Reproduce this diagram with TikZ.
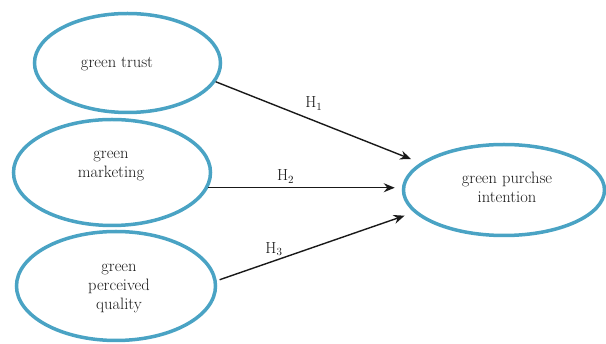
\documentclass[tikz,border=0pt]{standalone}
\usetikzlibrary{shapes.geometric,arrows.meta}
\definecolor{ringblue}{RGB}{74,163,196}
\definecolor{txt}{RGB}{25,25,25}
\begin{document}
\begin{tikzpicture}[x=1pt,y=-1pt,
  oval/.style={ellipse, draw=ringblue, line width=3.5pt, inner sep=0pt},
  lbl/.style={font=\fontsize{16.5}{19}\selectfont, text=txt, align=center, inner sep=0pt},
  hyp/.style={draw=black!90, line width=1.4pt, -{Stealth[length=11pt,width=9pt]}},
  hlbl/.style={font=\fontsize{16}{19}\selectfont, text=txt, inner sep=0pt}]
\useasboundingbox (0,0) rectangle (606,344);
\node[oval, minimum width=186pt, minimum height=99pt] (e1) at (127.5,63) {};
\node[oval, minimum width=197pt, minimum height=106pt] (e2) at (112,172.5) {};
\node[oval, minimum width=199pt, minimum height=109pt] (e3) at (116,286) {};
\node[oval, minimum width=201pt, minimum height=91pt] (e4) at (504,190) {};
\node[lbl] (t1) at (117,64) {green trust};
\node[lbl] (t2) at (111,166) {green\\marketing};
\node[lbl] (t3) at (119,288) {green\\perceived\\quality};
\node[lbl] (t4) at (507,187) {green purchse\\intention};
\draw[hyp, shorten >=10pt] (e1.-12) -- (e4.162) node[hlbl, pos=0.48, yshift=17pt] {H$_1$};
\draw[hyp, shorten >=7pt] (e2.-9) -- (e2.-9 -| e4.west) node[hlbl, pos=0.4, yshift=11pt] {H$_2$};
\draw[hyp, shorten >=10pt, shorten <=3pt] (e3.3) -- (e4.194.5) node[hlbl, pos=0.29, yshift=12pt] {H$_3$};
\end{tikzpicture}
\end{document}
